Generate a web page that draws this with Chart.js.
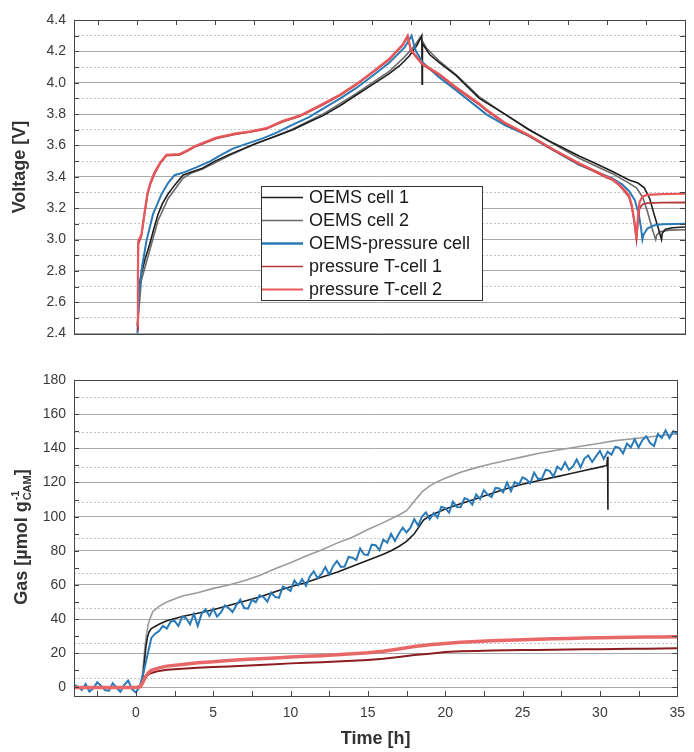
<!DOCTYPE html>
<html>
<head>
<meta charset="utf-8">
<script src="https://cdn.jsdelivr.net/npm/chart.js@4.4.1/dist/chart.umd.min.js"></script>
<style>
  html, body { margin: 0; padding: 0; background: #fff; }
  #wrap { position: relative; width: 694px; height: 752px; }
  canvas { position: absolute; left: 0; }
  #top { top: 0; }
  #bot { top: 350px; }
</style>
</head>
<body>
<div id="wrap">
  <canvas id="top" width="694" height="350"></canvas>
  <canvas id="bot" width="694" height="402"></canvas>
</div>
<script>
// series names (legend order)
var cellNames = ['OEMS cell 1', 'OEMS cell 2', 'OEMS-pressure cell', 'pressure T-cell 1', 'pressure T-cell 2'];

// ---- voltage [V] vs time [h]
var tV1 = [0.05, 0.15, 0.3, 0.55, 0.83, 1.1, 1.36, 1.65, 2.0, 2.45, 2.95, 3.5, 4.2, 5.0, 5.9, 6.7, 7.6, 8.8, 9.97, 11.0,
  11.9, 13.0, 14.0, 15.0, 16.1, 16.8, 17.4, 17.9, 18.2, 18.22, 18.24, 18.7, 19.3, 20.4, 21.87, 23.5, 25.05, 26.6, 28.24, 29.4,
  30.37, 31.43, 32.0, 32.4, 32.75, 33.0, 33.3, 33.5, 33.55, 33.75, 34.2, 35];
var vCell1 = [2.45, 2.70, 2.78, 2.88, 2.97, 3.07, 3.16, 3.23, 3.29, 3.35, 3.41, 3.43, 3.455, 3.50, 3.54, 3.575, 3.613, 3.655, 3.70, 3.75,
  3.79, 3.855, 3.92, 3.985, 4.056, 4.11, 4.17, 4.24, 4.30, 3.99, 4.25, 4.18, 4.13, 4.045, 3.90, 3.80, 3.70, 3.615, 3.533, 3.48,
  3.434, 3.38, 3.36, 3.33, 3.26, 3.17, 3.07, 3.0, 3.04, 3.065, 3.075, 3.08];

var tV2 = [0.05, 0.3, 0.83, 1.36, 2.0, 2.95, 3.5, 4.2, 5.0, 5.9, 7.6, 9.97, 11.9, 14.0, 16.1, 17.1, 17.7, 18.1, 18.5, 19.3,
  20.4, 21.87, 23.5, 25.05, 26.6, 28.24, 30.37, 31.43, 31.9, 32.3, 32.6, 32.9, 33.13, 33.2, 33.4, 34, 35];
var vCell2 = [2.45, 2.74, 2.93, 3.12, 3.26, 3.39, 3.425, 3.45, 3.49, 3.535, 3.61, 3.705, 3.80, 3.93, 4.07, 4.165, 4.23, 4.29, 4.22, 4.14,
  4.05, 3.91, 3.80, 3.70, 3.61, 3.518, 3.42, 3.36, 3.33, 3.27, 3.18, 3.07, 3.0, 3.03, 3.05, 3.06, 3.062];

var tVP = [0.05, 0.15, 0.3, 0.62, 1.04, 1.57, 2.0, 2.42, 3.06, 3.8, 4.65, 5.4, 6.14, 7.0, 8.05, 8.9, 9.9, 11.0, 11.9, 13.0,
  14.0, 15.0, 16.1, 17.1, 17.55, 17.7, 17.83, 18.25, 19.3, 20.4, 21.87, 22.3, 23.5, 25.05, 26.6, 28.24, 29.4, 30.37, 31.0, 31.43,
  31.8, 32.05, 32.2, 32.28, 32.35, 32.6, 33.0, 33.5, 35];
var vPressure = [2.40, 2.65, 2.80, 2.99, 3.16, 3.286, 3.36, 3.41, 3.43, 3.46, 3.497, 3.54, 3.58, 3.61, 3.645, 3.68, 3.73, 3.78, 3.835, 3.90,
  3.965, 4.04, 4.125, 4.225, 4.30, 4.24, 4.20, 4.13, 4.035, 3.95, 3.835, 3.80, 3.73, 3.66, 3.57, 3.476, 3.43, 3.39, 3.35, 3.31,
  3.25, 3.16, 3.07, 3.0, 3.03, 3.07, 3.09, 3.097, 3.10];

var tVT = [0.05, 0.08, 0.1, 0.3, 0.5, 0.7, 0.9, 1.15, 1.5, 1.9, 2.75, 3.25, 3.7, 4.2, 5.1, 6.35, 7.3, 8.27, 9.3, 10.4,
  11.9, 13.0, 14.0, 15.0, 16.1, 17.0, 17.3, 17.5, 17.83, 18.25, 19.3, 20.4, 21.87, 22.3, 23.5, 25.05, 26.6, 28.24, 29.4, 30.0,
  30.37, 30.8, 31.2, 31.43, 31.6, 31.75, 31.85, 31.9, 32.0, 32.1, 32.3, 32.6, 33.5, 35];
var vTcell1 = [2.42, 2.72, 2.97, 3.02, 3.16, 3.29, 3.36, 3.42, 3.485, 3.535, 3.54, 3.565, 3.59, 3.61, 3.645, 3.672, 3.686, 3.705, 3.75, 3.785,
  3.86, 3.92, 3.985, 4.06, 4.145, 4.24, 4.295, 4.205, 4.165, 4.115, 4.05, 3.965, 3.86, 3.825, 3.74, 3.66, 3.57, 3.48, 3.425, 3.395,
  3.38, 3.345, 3.30, 3.27, 3.21, 3.12, 3.04, 3.0, 3.12, 3.2, 3.225, 3.232, 3.235, 3.236];
var vTcell2 = [2.45, 2.75, 2.99, 3.03, 3.17, 3.30, 3.37, 3.43, 3.49, 3.54, 3.545, 3.57, 3.595, 3.615, 3.65, 3.677, 3.69, 3.71, 3.755, 3.79,
  3.866, 3.925, 3.99, 4.065, 4.15, 4.246, 4.30, 4.21, 4.17, 4.12, 4.056, 3.97, 3.866, 3.83, 3.745, 3.665, 3.575, 3.487, 3.43, 3.40,
  3.385, 3.35, 3.31, 3.28, 3.22, 3.13, 3.05, 3.0, 3.15, 3.24, 3.275, 3.285, 3.29, 3.292];

// ---- gas [umol/g CAM] vs time [h]
var tG1 = [-4, 0, 0.35, 0.45, 0.55, 0.65, 0.75, 0.85, 1.0, 1.5, 2, 3, 4, 5, 6, 7, 8, 9, 10, 11, 12, 13, 14, 15, 16,
  16.5, 17, 17.5, 18, 18.3, 18.6, 19, 20, 21, 22, 23, 24, 25, 26, 27, 28, 29, 30, 30.45, 30.5, 30.52];
var gCell1 = [0, 0, 1, 5, 15, 24, 29.5, 32.5, 34.5, 37, 39, 41.5, 43.5, 45.5, 48, 50.5, 53, 56, 59, 61.5, 64.5, 67.5, 71, 74.5, 78,
  80, 82.5, 85.5, 90, 94, 98, 100.5, 104.5, 107.5, 110.5, 113.5, 116.5, 119, 121, 123, 125, 127, 129, 130, 135, 104];

var tG2 = [-4, 0, 0.3, 0.4, 0.5, 0.6, 0.7, 0.8, 0.9, 1.1, 1.5, 2, 3, 4, 5, 6, 7, 8, 9, 10, 11, 12, 13, 14, 15, 16, 17,
  17.5, 18, 18.5, 19, 19.5, 20, 21, 22, 23, 24, 25, 26, 27, 28, 29, 30, 31, 32, 33, 34, 35];
var gCell2 = [0, 0, 1, 6, 15, 25, 32, 37, 40, 44.5, 47.5, 50, 53.5, 55.5, 58, 60, 62.5, 65.5, 69.5, 73, 77, 80.5, 84.5, 88, 92.5, 96.5, 101,
  103.5, 109, 114.5, 118, 120.5, 122.5, 126, 128.7, 131, 133, 135, 137, 138.6, 140, 141.5, 143, 144.5, 145.5, 146.5, 147.5, 148.5];

// OEMS-pressure cell, one reading every 0.25 h from -4 h
var gPressureStart = -4, gPressureStep = 0.25;
var gPressure = [1.5, 0.5, -1.5, 2.0, -2.5, -0.5, 3.0, 1.0, -1.5, -2.0, 2.5, 0, -2.5, 1.5, 4.0, -1.0, -3.0, 0.5,
  9, 19, 29, 31.5, 33, 36, 34.5, 38.5, 39, 36, 41.5, 40.5, 37, 43, 36,
  43.1, 45.8, 41.9, 46, 41.5, 44, 48, 46.5, 44.1, 48.3, 51.4, 46.5, 46.1, 51.3, 49.9, 54, 52.9, 50.3, 55.6,
  53, 52.5, 59, 58, 56.5, 62.6, 59.8, 63.4, 59.5, 65, 68, 64, 66.5, 70.5, 66, 71, 74, 70.6, 70.8, 76.4,
  76, 74.6, 81.3, 77.9, 77.5, 83.6, 83.3, 80.4, 86.5, 84.8, 90, 85.8, 90, 93.5, 90.8, 93.5, 98.5, 94.8, 100, 102.5,
  98.5, 102, 99.5, 105.8, 105, 102.4, 108.8, 105.6, 105.5, 110.9, 109.8, 107.1, 113, 110.3, 115.5, 112.8,
  111.5, 116.8, 116.5, 114.3, 120, 114.9, 120.3, 118.6, 123, 121.8, 119.5, 125.8, 122, 122.3, 127.5, 126.8,
  123.5, 129.3, 127.5, 131.8, 127.5, 129.3, 133.5, 128.8, 134, 135.8, 132, 135.3, 138.5, 133.8, 138, 136.3,
  141, 140.3, 137, 142.8, 140.5, 145.3, 140.5, 144.8, 147, 143.1, 141.3, 148.4, 146, 150.5, 146, 150, 148.5];

var tGT = [-4, 0, 0.3, 0.45, 0.6, 0.8, 1.0, 1.5, 2, 3, 4, 5, 6, 7, 8, 9, 10, 11, 12, 13, 14, 15, 16, 17, 18, 19, 20,
  21, 22, 23, 24, 25, 26, 27, 28, 29, 30, 31, 32, 33, 34, 35];
var gTcell1 = [0, 0, 0.5, 2.5, 5.5, 7.5, 8.5, 9.7, 10.3, 11, 11.6, 12, 12.3, 12.7, 13.1, 13.6, 14.1, 14.5, 14.8, 15.2, 15.6, 16.1, 16.8, 17.8, 19, 19.8, 20.8,
  21.2, 21.4, 21.6, 21.8, 21.9, 22, 22.1, 22.2, 22.3, 22.4, 22.5, 22.6, 22.7, 22.8, 23];
var gTcell2 = [0, 0, 0.5, 3, 6, 8.5, 10, 11.5, 12.5, 13.5, 14.5, 15, 15.8, 16.3, 16.8, 17.3, 17.8, 18.2, 18.6, 19.2, 19.7, 20.3, 21.2, 22.5, 24, 25, 25.8,
  26.4, 26.9, 27.3, 27.6, 27.9, 28.2, 28.5, 28.7, 28.9, 29.1, 29.3, 29.4, 29.5, 29.6, 29.7];

// ---- axes
var timeMin = -4, timeMax = 35;
var voltMin = 2.4, voltMax = 4.4;
var gasMin = -5, gasMax = 180;

function pts(xs, ys) { return ys.map(function (v, i) { return {x: xs[i], y: v}; }); }
function evenPts(start, step, ys) { return ys.map(function (v, i) { return {x: start + i * step, y: v}; }); }

var FONT = '"Liberation Sans", Arial, sans-serif';
Chart.defaults.font.family = FONT;
Chart.defaults.color = '#333';

// frame round the plot with inward tick marks
var framePlugin = {
  id: 'frame',
  afterDatasetsDraw: function (chart, args, o) {
    var ctx = chart.ctx, a = chart.chartArea, x = chart.scales.x, y = chart.scales.y;
    ctx.save();
    ctx.strokeStyle = '#444';
    ctx.lineWidth = 1;
    ctx.strokeRect(Math.round(a.left) + 0.5, Math.round(a.top) + 0.5, Math.round(a.right - a.left), Math.round(a.bottom - a.top));
    ctx.beginPath();
    var v, p;
    for (v = Math.ceil(x.min / o.xStep) * o.xStep; v <= x.max + 1e-9; v += o.xStep) {
      p = Math.round(x.getPixelForValue(v)) + 0.5;
      if (o.xEdge === 'top') { ctx.moveTo(p, a.top); ctx.lineTo(p, a.top + 5); }
      else { ctx.moveTo(p, a.bottom); ctx.lineTo(p, a.bottom - 5); }
    }
    for (v = Math.ceil(y.min / o.yStep - 1e-6) * o.yStep; v <= y.max + 1e-9; v += o.yStep) {
      p = Math.round(y.getPixelForValue(v)) + 0.5;
      ctx.moveTo(a.left, p); ctx.lineTo(a.left + 5, p);
      ctx.moveTo(a.right, p); ctx.lineTo(a.right - 5, p);
    }
    ctx.stroke();
    ctx.restore();
  }
};

// rotated y title, with optional stacked sup/sub script
var yTitlePlugin = {
  id: 'yTitle',
  afterDraw: function (chart, args, o) {
    var ctx = chart.ctx;
    var big = 'bold 18px ' + FONT, small = 'bold 11px ' + FONT;
    ctx.save();
    ctx.translate(o.x, o.y);
    ctx.rotate(-Math.PI / 2);
    ctx.fillStyle = '#333';
    ctx.textBaseline = 'middle';
    ctx.textAlign = 'left';
    ctx.font = big;
    var w1 = ctx.measureText(o.text).width, ws = 0, w2 = 0;
    if (o.sup) {
      ctx.font = small;
      ws = Math.max(ctx.measureText(o.sup).width, ctx.measureText(o.sub).width) + 1;
      ctx.font = big;
      w2 = ctx.measureText(o.tail).width;
    }
    var x0 = -(w1 + ws + w2) / 2;
    ctx.fillText(o.text, x0, 0);
    if (o.sup) {
      ctx.font = small;
      ctx.fillText(o.sup, x0 + w1 + 1, -6);
      ctx.fillText(o.sub, x0 + w1 + 1, 6);
      ctx.font = big;
      ctx.fillText(o.tail, x0 + w1 + ws, 0);
    }
    ctx.restore();
  }
};

// boxed legend inside the voltage plot
var boxLegend = {
  id: 'boxLegend',
  afterDraw: function (chart, args, o) {
    var ctx = chart.ctx;
    ctx.save();
    ctx.fillStyle = '#fff';
    ctx.fillRect(o.left, o.top, o.width, o.height);
    ctx.strokeStyle = '#333';
    ctx.lineWidth = 1;
    ctx.strokeRect(o.left + 0.5, o.top + 0.5, o.width, o.height);
    ctx.font = '18px ' + FONT;
    ctx.textBaseline = 'middle';
    ctx.textAlign = 'left';
    chart.data.datasets.forEach(function (ds, i) {
      var yy = Math.round(o.top + o.first + i * o.step) + 0.5;
      ctx.strokeStyle = ds.borderColor;
      ctx.lineWidth = o.widths[i];
      ctx.beginPath();
      ctx.moveTo(o.left + 1, yy);
      ctx.lineTo(o.left + 42, yy);
      ctx.stroke();
      ctx.fillStyle = '#1a1a1a';
      ctx.fillText(ds.label, o.left + 48, yy + 1);
    });
    ctx.restore();
  }
};

function lineSet(label, data, color, width, order) {
  return {label: label, data: data, borderColor: color, backgroundColor: color, borderWidth: width,
    pointRadius: 0, tension: 0, fill: false, order: order};
}

function minorAxis(min, max, step) {
  return {
    type: 'linear', position: 'left', min: min, max: max,
    afterBuildTicks: function (s) {
      var t = [];
      for (var v = min + step / 2; v < max; v += step) t.push({value: v});
      s.ticks = t;
    },
    afterFit: function (s) { s.width = 0; },
    ticks: {display: false},
    grid: {color: '#c4c4c4', lineWidth: 1, drawTicks: false},
    border: {display: false, dash: [2, 2]}
  };
}

new Chart(document.getElementById('top'), {
  type: 'line',
  data: {
    datasets: [
      lineSet(cellNames[0], pts(tV1, vCell1), '#1e1e1e', 1.6, 3),
      lineSet(cellNames[1], pts(tV2, vCell2), '#6a6a6a', 1.6, 4),
      lineSet(cellNames[2], pts(tVP, vPressure), '#2a7ab8', 2, 2),
      lineSet(cellNames[3], pts(tVT, vTcell1), '#b2393c', 1.8, 1),
      lineSet(cellNames[4], pts(tVT, vTcell2), '#e8585b', 2.2, 0)
    ]
  },
  options: {
    responsive: false, animation: false, devicePixelRatio: 1,
    layout: {padding: {top: 20, right: 9, bottom: 15, left: 0}},
    plugins: {
      legend: {display: false}, tooltip: {enabled: false},
      frame: {xStep: 2.5, yStep: 0.1, xEdge: 'top'},
      yTitle: {x: 20, y: 167, text: 'Voltage [V]'},
      boxLegend: {left: 261, top: 186, width: 221, height: 114, first: 11, step: 22.9, widths: [1.5, 1.5, 2.5, 1.5, 2]}
    },
    scales: {
      x: {type: 'linear', display: false, min: timeMin, max: timeMax},
      y: {
        type: 'linear', position: 'left', min: voltMin, max: voltMax,
        afterFit: function (s) { s.width = 74; },
        ticks: {stepSize: 0.2, padding: 8, color: '#3a3a3a', font: {size: 14},
          callback: function (v) { return v.toFixed(1); }},
        grid: {color: '#a8a8a8', lineWidth: 1, drawTicks: false},
        border: {display: false}
      },
      y2: minorAxis(voltMin, voltMax, 0.2)
    }
  },
  plugins: [framePlugin, yTitlePlugin, boxLegend]
});

new Chart(document.getElementById('bot'), {
  type: 'line',
  data: {
    datasets: [
      lineSet(cellNames[0], pts(tG1, gCell1), '#1e1e1e', 1.6, 3),
      lineSet(cellNames[1], pts(tG2, gCell2), '#9b9b9b', 1.6, 4),
      lineSet(cellNames[2], evenPts(gPressureStart, gPressureStep, gPressure), '#2a7ab8', 2, 2),
      lineSet(cellNames[3], pts(tGT, gTcell1), '#8c1d20', 2, 1),
      lineSet(cellNames[4], pts(tGT, gTcell2), '#e8686a', 3.5, 0)
    ]
  },
  options: {
    responsive: false, animation: false, devicePixelRatio: 1,
    layout: {padding: {top: 30, right: 9, bottom: 0, left: 0}},
    plugins: {
      legend: {display: false}, tooltip: {enabled: false},
      frame: {xStep: 2.5, yStep: 10, xEdge: 'bottom'},
      yTitle: {x: 22, y: 187, text: 'Gas [\u00b5mol g', sup: '-1', sub: 'CAM', tail: ']'}
    },
    scales: {
      x: {
        type: 'linear', min: timeMin, max: timeMax,
        afterFit: function (s) { s.height = 56; },
        ticks: {stepSize: 5, includeBounds: false, padding: 9, color: '#3a3a3a', font: {size: 14}},
        grid: {display: false, drawTicks: false},
        border: {display: false},
        title: {display: true, text: 'Time [h]', color: '#333', font: {size: 18, weight: 'bold'}, padding: {top: 0, bottom: 2}}
      },
      y: {
        type: 'linear', position: 'left', min: gasMin, max: gasMax,
        afterFit: function (s) { s.width = 74; },
        ticks: {stepSize: 20, includeBounds: false, padding: 8, color: '#3a3a3a', font: {size: 14}},
        grid: {color: '#a8a8a8', lineWidth: 1, drawTicks: false},
        border: {display: false}
      },
      y2: minorAxis(0, gasMax, 20)
    }
  },
  plugins: [framePlugin, yTitlePlugin]
});
</script>
</body>
</html>
